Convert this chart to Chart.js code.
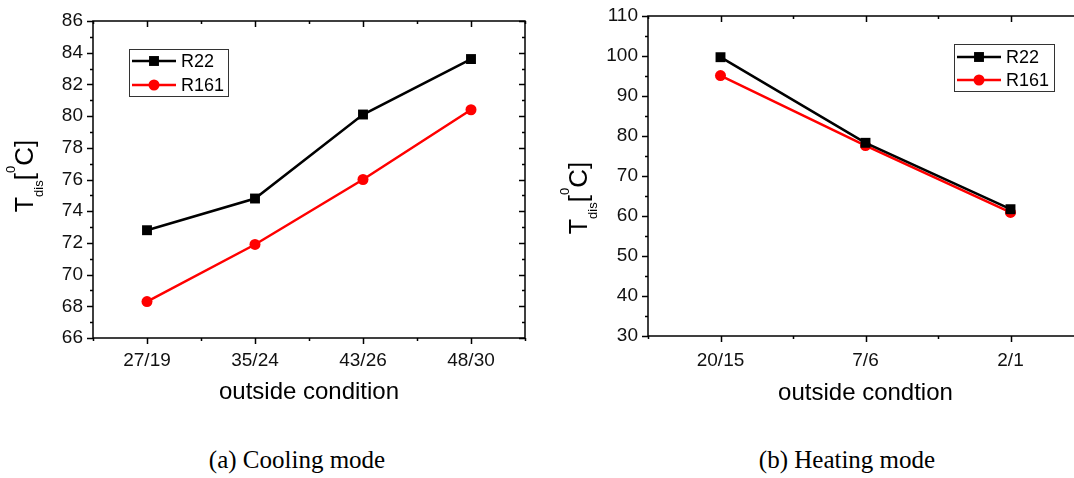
<!DOCTYPE html>
<html>
<head>
<meta charset="utf-8">
<script src="https://cdn.jsdelivr.net/npm/chart.js@4.4.1/dist/chart.umd.min.js"></script>
<style>
  html, body { margin: 0; padding: 0; background: #fff; overflow: hidden; }
  body { width: 1074px; height: 478px; position: relative; }
  .panel { position: absolute; top: 0; }
  .caption { position: absolute; top: 446px; font: 25px "Liberation Serif", "Times New Roman", serif; color: #000; white-space: nowrap; transform: translateX(-50%); }
</style>
</head>
<body>
<div class="panel" style="left:0px"><canvas id="cooling" width="545" height="420"></canvas></div>
<div class="panel" style="left:540px"><canvas id="heating" width="560" height="420"></canvas></div>
<div class="caption" style="left:297px">(a) Cooling mode</div>
<div class="caption" style="left:847px">(b) Heating mode</div>
<script>
// cooling mode (a)
const coolingLabels = ['27/19', '35/24', '43/26', '48/30'];
const coolingR22 = [72.8, 74.8, 80.1, 83.6];
const coolingR161 = [68.3, 71.9, 76.0, 80.4];
const coolingY = [66, 86, 2]; // min, max, step

// heating mode (b)
const heatingLabels = ['20/15', '7/6', '2/1'];
const heatingR22 = [99.7, 78.3, 61.7];
const heatingR161 = [95.1, 77.6, 60.9];
const heatingY = [30, 110, 10];

const SANS = '"Liberation Sans", Arial, sans-serif';

// box round the plot, with major/minor ticks on all four sides
const frameTicks = {
  id: 'frameTicks',
  afterDraw(chart, args, opts) {
    const ctx = chart.ctx, a = chart.chartArea;
    const x = chart.scales.x, y = chart.scales.y;
    ctx.save();
    ctx.strokeStyle = '#000';
    ctx.lineWidth = 1.5;
    ctx.strokeRect(a.left, a.top, a.right - a.left, a.bottom - a.top);
    ctx.beginPath();
    const st = opts.step;
    for (let k = 0; y.min + k * st / 2 <= y.max + 1e-9; k++) {
      const len = k % 2 === 0 ? 6 : 3;
      const py = Math.round(y.getPixelForValue(y.min + k * st / 2)) + 0.5;
      ctx.moveTo(a.left - len, py); ctx.lineTo(a.left, py);
      ctx.moveTo(a.right, py); ctx.lineTo(a.right - len, py);
    }
    const n = chart.data.labels.length;
    for (let k = 0; k <= n * 2; k++) {
      const len = k % 2 === 1 ? 6 : 3;
      const px = Math.round(x.getPixelForValue(k / 2 - 0.5)) + 0.5;
      ctx.moveTo(px, a.bottom); ctx.lineTo(px, a.bottom + len);
      ctx.moveTo(px, a.top); ctx.lineTo(px, a.top + len);
    }
    ctx.stroke();
    ctx.restore();
  }
};

// T_dis[^0C] title, plus x title
const axisTitles = {
  id: 'axisTitles',
  afterDraw(chart, args, opts) {
    const ctx = chart.ctx;
    ctx.save();
    ctx.fillStyle = '#000';
    ctx.textBaseline = 'alphabetic';
    ctx.font = '24px ' + SANS;
    ctx.textAlign = 'center';
    ctx.fillText(opts.xText, (chart.chartArea.left + chart.chartArea.right) / 2, opts.xBase);
    ctx.textAlign = 'left';
    const parts = [
      { t: 'T', size: 25, dy: 0 },
      { t: 'dis', size: 13, dy: 10 },
      { t: '[', size: 26, dy: 0 },
      { t: '0', size: 13, dy: -18 },
      { t: 'C]', size: 26, dy: 0 }
    ];
    let total = 0;
    parts.forEach(p => { ctx.font = p.size + 'px ' + SANS; p.w = ctx.measureText(p.t).width; total += p.w; });
    ctx.translate(opts.yBase, opts.yCenter);
    ctx.rotate(-Math.PI / 2);
    let u = -total / 2;
    parts.forEach(p => { ctx.font = p.size + 'px ' + SANS; ctx.fillText(p.t, u, p.dy); u += p.w; });
    ctx.restore();
  }
};

// framed legend with line + marker samples
const boxLegend = {
  id: 'boxLegend',
  afterDraw(chart, args, opts) {
    const ctx = chart.ctx;
    ctx.save();
    ctx.strokeStyle = '#333';
    ctx.lineWidth = 1;
    ctx.strokeRect(opts.x + 0.5, opts.y + 0.5, opts.w, opts.h);
    chart.data.datasets.forEach((ds, i) => {
      const cy = opts.y + opts.rowY[i];
      ctx.strokeStyle = ds.borderColor;
      ctx.lineWidth = 2.5;
      ctx.beginPath();
      ctx.moveTo(opts.x + 3, cy); ctx.lineTo(opts.x + 47, cy);
      ctx.stroke();
      ctx.fillStyle = ds.pointBackgroundColor;
      ctx.beginPath();
      if (ds.pointStyle === 'rect') {
        const s = ds.pointRadius * Math.SQRT1_2;
        ctx.rect(opts.x + 25 - s, cy - s, 2 * s, 2 * s);
      } else {
        ctx.arc(opts.x + 25, cy, ds.pointRadius, 0, Math.PI * 2);
      }
      ctx.fill();
      ctx.fillStyle = '#000';
      ctx.font = '18px ' + SANS;
      ctx.textBaseline = 'middle';
      ctx.fillText(ds.label, opts.x + 52, cy + 1);
    });
    ctx.restore();
  }
};

function makeChart(id, labels, r22, r161, yr, L) {
  return new Chart(document.getElementById(id), {
    type: 'line',
    data: {
      labels: labels,
      datasets: [
        { label: 'R22', data: r22, borderColor: '#000', backgroundColor: '#000',
          pointBackgroundColor: '#000', pointBorderColor: '#000',
          borderWidth: 2.5, pointStyle: 'rect', pointRadius: 7, pointBorderWidth: 0 },
        { label: 'R161', data: r161, borderColor: '#ff0000', backgroundColor: '#ff0000',
          pointBackgroundColor: '#ff0000', pointBorderColor: '#ff0000',
          borderWidth: 2.5, pointStyle: 'circle', pointRadius: 5.5, pointBorderWidth: 0 }
      ]
    },
    options: {
      responsive: false,
      animation: false,
      layout: { padding: { left: 0, top: L.top, right: L.right, bottom: 0 } },
      plugins: {
        legend: { display: false },
        tooltip: { enabled: false },
        frameTicks: { step: yr[2] },
        axisTitles: L.titles,
        boxLegend: L.legend
      },
      scales: {
        x: {
          type: 'category',
          offset: true,
          grid: { display: false, tickLength: 6 },
          border: { display: false },
          ticks: { color: '#111', font: { family: SANS, size: 19 }, padding: L.xPad, maxRotation: 0 },
          afterFit(s) { s.height = L.xHeight; }
        },
        y: {
          min: yr[0], max: yr[1],
          grid: { display: false, tickLength: 6 },
          border: { display: false },
          ticks: { stepSize: yr[2], color: '#111', font: { family: SANS, size: 19 }, padding: 4 },
          afterFit(s) { s.width = L.yWidth; }
        }
      }
    },
    plugins: [frameTicks, axisTitles, boxLegend]
  });
}

makeChart('cooling', coolingLabels, coolingR22, coolingR161, coolingY, {
  top: 21, right: 20, yWidth: 93, xHeight: 82, xPad: 5,
  titles: { xText: 'outside condition', xBase: 399, yBase: 33, yCenter: 176 },
  legend: { x: 129, y: 49, w: 99, h: 47, rowY: [12, 36] }
});

makeChart('heating', heatingLabels, heatingR22, heatingR161, heatingY, {
  top: 16, right: 17, yWidth: 108, xHeight: 84, xPad: 7,
  titles: { xText: 'outside condtion', xBase: 400, yBase: 47, yCenter: 198 },
  legend: { x: 414, y: 44, w: 100, h: 47, rowY: [13, 36] }
});
</script>
</body>
</html>
